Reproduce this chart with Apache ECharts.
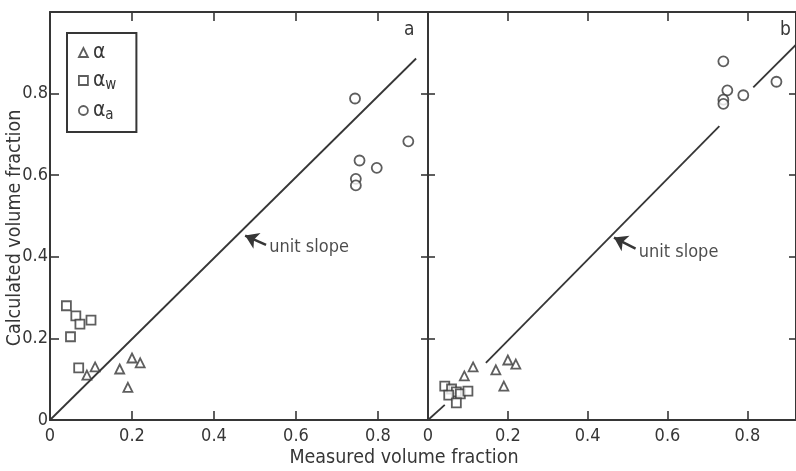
<!DOCTYPE html>
<html>
<head>
<meta charset="utf-8">
<script src="https://cdn.jsdelivr.net/npm/echarts/dist/echarts.min.js"></script>
<style>
  html, body { margin: 0; padding: 0; background: #fff; }
  #main { width: 796px; height: 471px; }
</style>
</head>
<body>
<div id="main"></div>
<script>
// 颜色 / 字体
const inkColor = '#363636';
const tickFont = '"Liberation Sans Narrow", "DejaVu Sans Condensed", sans-serif';
const titleFont = '"DejaVu Sans Condensed", "Liberation Sans Narrow", sans-serif';

// 刻度
const xTicks = [0, 0.2, 0.4, 0.6, 0.8];
const yTicks = [0, 0.2, 0.4, 0.6, 0.8];

// 图 a 数据
const alphaA = [[0.09, 0.11], [0.11, 0.13], [0.17, 0.125], [0.20, 0.152], [0.22, 0.14], [0.19, 0.08]];
const alphaWA = [[0.04, 0.28], [0.063, 0.255], [0.073, 0.235], [0.10, 0.245], [0.05, 0.204], [0.07, 0.128]];
const alphaAA = [[0.744, 0.788], [0.755, 0.636], [0.797, 0.618], [0.746, 0.591], [0.746, 0.575], [0.874, 0.683]];
const slopeA = [[0, 0], [0.893, 0.886]];

// 图 b 数据
const alphaB = [[0.091, 0.108], [0.113, 0.13], [0.17, 0.123], [0.20, 0.147], [0.22, 0.137], [0.19, 0.083]];
const alphaWB = [[0.042, 0.083], [0.059, 0.076], [0.071, 0.069], [0.081, 0.064], [0.052, 0.061], [0.10, 0.071], [0.071, 0.042]];
const alphaAB = [[0.74, 0.879], [0.75, 0.808], [0.74, 0.785], [0.74, 0.775], [0.79, 0.796], [0.873, 0.829]];
const slopeB = [
  [[0, 0], [0.042, 0.037]],
  [[0.145, 0.14], [0.73, 0.72]],
  [[0.815, 0.815], [0.922, 0.92]]
];

// 箭头 + 文字 (数据坐标)
const arrowA = [[0.527, 0.429], [0.476, 0.452]];
const textA = [0.535, 0.422];
const arrowB = [[0.52, 0.42], [0.466, 0.447]];
const textB = [0.528, 0.412];

const xMax = 0.922;
const yMax = 1.0;

function fmt(v) {
  return v === 0 ? '0' : v.toFixed(1);
}

// 坐标轴模板
function makeX(gridIndex, position, showLabel) {
  return {
    type: 'value', gridIndex: gridIndex, position: position,
    min: 0, max: xMax,
    axisLine: { show: true, onZero: false, lineStyle: { color: inkColor, width: 2 } },
    axisTick: { show: true, inside: true, length: 9, customValues: xTicks, lineStyle: { color: inkColor, width: 1.6 } },
    axisLabel: { show: showLabel, customValues: xTicks, formatter: fmt, margin: 7, color: inkColor, fontSize: 18, fontFamily: tickFont },
    splitLine: { show: false }
  };
}

function makeY(gridIndex, position, showLabel, tickLen) {
  return {
    type: 'value', gridIndex: gridIndex, position: position,
    min: 0, max: yMax,
    axisLine: { show: true, onZero: false, lineStyle: { color: inkColor, width: 2 } },
    axisTick: { show: true, inside: true, length: tickLen, customValues: yTicks, lineStyle: { color: inkColor, width: 1.6 } },
    axisLabel: { show: showLabel, customValues: yTicks, formatter: fmt, margin: 2, color: inkColor, fontSize: 18, fontFamily: tickFont },
    splitLine: { show: false }
  };
}

const hollow = { color: '#fff', borderColor: inkColor, borderWidth: 1.8 };

function scatter(name, symbol, size, data, idx) {
  return {
    type: 'scatter', name: name, symbol: symbol, symbolSize: size,
    xAxisIndex: idx * 2, yAxisIndex: idx * 2,
    itemStyle: hollow, data: data, z: 3
  };
}

function slopeLine(data, idx) {
  return {
    type: 'line', xAxisIndex: idx * 2, yAxisIndex: idx * 2,
    symbol: 'none', silent: true, data: data,
    lineStyle: { color: inkColor, width: 1.8 }
  };
}

function note(pos, arrow, idx) {
  return {
    type: 'scatter', xAxisIndex: idx * 2, yAxisIndex: idx * 2,
    symbolSize: 0, silent: true, data: [pos],
    label: {
      show: true, position: 'right', distance: 0, formatter: 'unit slope',
      color: '#1e1e1e', fontSize: 18, fontFamily: titleFont
    },
    markLine: {
      silent: true,
      label: { show: false },
      lineStyle: { color: inkColor, width: 2.5, type: 'solid', opacity: 1 },
      data: [[
        { coord: arrow[0], symbol: 'none' },
        { coord: arrow[1], symbol: 'arrow', symbolSize: 13 }
      ]]
    }
  };
}

const series = [
  slopeLine(slopeA, 0),
  scatter('α', 'triangle', 9, alphaA, 0),
  scatter('αw', 'rect', 9, alphaWA, 0),
  scatter('αa', 'circle', 10, alphaAA, 0),
  note(textA, arrowA, 0),
  scatter('α', 'triangle', 9, alphaB, 1),
  scatter('αw', 'rect', 9, alphaWB, 1),
  scatter('αa', 'circle', 10, alphaAB, 1),
  note(textB, arrowB, 1)
];
slopeB.forEach(seg => series.push(slopeLine(seg, 1)));

const legendNames = { 'α': '{m|α}', 'αw': '{m|α}{s|w}', 'αa': '{m|α}{s|a}' };

const option = {
  backgroundColor: '#fff',
  animation: false,
  grid: [
    { left: 50, top: 12, width: 378, height: 408 },
    { left: 428, top: 12, width: 376, height: 408 }
  ],
  xAxis: [
    makeX(0, 'bottom', true), makeX(0, 'top', false),
    makeX(1, 'bottom', true), makeX(1, 'top', false)
  ],
  yAxis: [
    makeY(0, 'left', true, 9), makeY(0, 'right', false, 7),
    makeY(1, 'left', false, 7), makeY(1, 'right', false, 7)
  ],
  legend: {
    orient: 'vertical', left: 67, top: 33,
    selectedMode: false,
    data: [
      { name: 'α', icon: 'triangle', itemStyle: hollow },
      { name: 'αw', icon: 'rect', itemStyle: hollow },
      { name: 'αa', icon: 'circle', itemStyle: hollow }
    ],
    itemWidth: 9, itemHeight: 9, itemGap: 5,
    padding: [9, 20, 9, 11],
    borderColor: inkColor, borderWidth: 2,
    formatter: n => legendNames[n],
    textStyle: {
      color: inkColor,
      rich: {
        m: { fontSize: 21, lineHeight: 20, fontFamily: titleFont, color: inkColor },
        s: { fontSize: 15, lineHeight: 20, fontFamily: titleFont, color: inkColor, padding: [10, 0, 0, 0] }
      }
    }
  },
  title: [
    { text: 'a', left: 399, top: 16, textStyle: { color: inkColor, fontSize: 19, fontWeight: 'normal', fontFamily: titleFont } },
    { text: 'b', left: 775, top: 16, textStyle: { color: inkColor, fontSize: 19, fontWeight: 'normal', fontFamily: titleFont } },
    { text: 'Measured volume fraction', left: 399, top: 443, textAlign: 'center',
      textStyle: { color: inkColor, fontSize: 19.5, fontWeight: 'normal', fontFamily: titleFont } }
  ],
  graphic: [{
    type: 'text', x: 15, y: 228, rotation: Math.PI / 2,
    style: {
      text: 'Calculated volume fraction', align: 'center', verticalAlign: 'middle',
      fill: inkColor, fontSize: 19.5, fontFamily: titleFont
    }
  }],
  series: series
};

const chart = echarts.init(document.getElementById('main'));
chart.setOption(option);
</script>
</body>
</html>
